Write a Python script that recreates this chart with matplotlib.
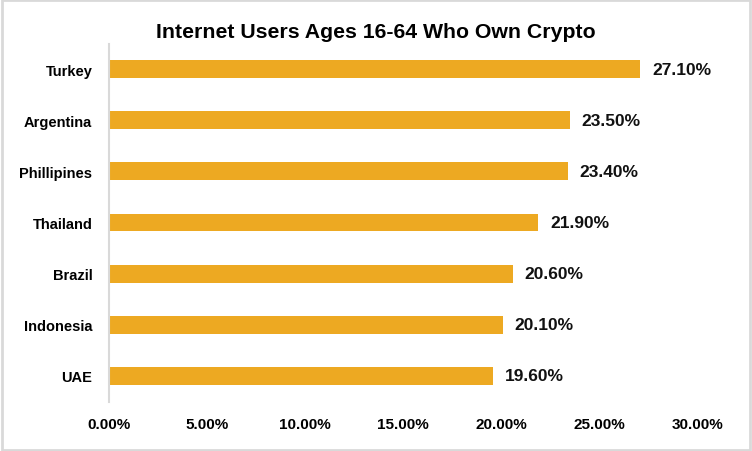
import matplotlib
matplotlib.use("Agg")
import matplotlib.pyplot as plt
from matplotlib.patches import Rectangle

countries = ["UAE", "Indonesia", "Brazil", "Thailand", "Phillipines", "Argentina", "Turkey"]
shares = [19.6, 20.1, 20.6, 21.9, 23.4, 23.5, 27.1]
xticks = [0, 5, 10, 15, 20, 25, 30]

plt.rcParams['font.family'] = ['Liberation Sans', 'DejaVu Sans']
plt.rcParams['font.weight'] = 'bold'

fig = plt.figure(figsize=(7.52, 4.52), dpi=100)
ax = fig.add_axes([0.145, 0.1095, 0.782, 0.792])

ax.barh(countries, shares, height=0.35, color="#EDA922")
for i, v in enumerate(shares):
    ax.text(v + 0.6, i, "%.2f%%" % v, va="center", ha="left", fontsize=12.5,
            fontweight="bold", color="#111111")

ax.set_xlim(0, 30)
ax.set_ylim(-0.5, len(countries) - 0.5)
ax.set_xticks(xticks)
ax.set_xticklabels(["%.2f%%" % t for t in xticks], fontsize=11, fontweight="bold")
ax.tick_params(axis="y", labelsize=10.5, length=0, pad=12)
ax.tick_params(axis="x", length=0, pad=11)
for lbl in ax.get_yticklabels():
    lbl.set_fontweight("bold")

for s in ["top", "right", "bottom"]:
    ax.spines[s].set_visible(False)
ax.spines["left"].set_color("#D9D9D9")
ax.spines["left"].set_linewidth(1.5)

fig.text(0.5, 0.929, "Internet Users Ages 16-64 Who Own Crypto", ha="center",
         va="center", fontsize=15.3, fontweight="bold")

fig.patches.append(Rectangle((0.002, 0.003), 0.996, 0.994, transform=fig.transFigure,
                             fill=False, edgecolor="#D9D9D9", linewidth=2))

plt.savefig("out.png", dpi=100)
